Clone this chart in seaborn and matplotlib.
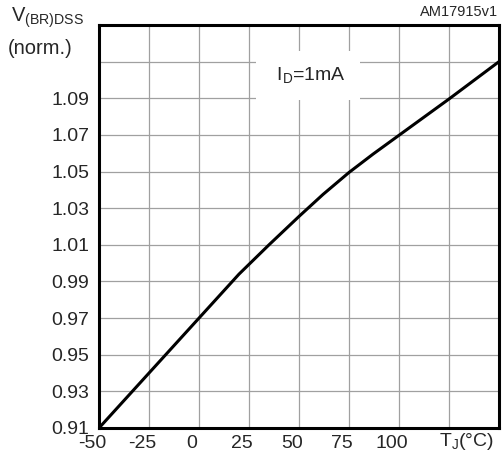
import matplotlib
matplotlib.use("Agg")
import matplotlib.pyplot as plt
import matplotlib.transforms as mtransforms
import seaborn as sns
import pandas as pd

# data
temp_c = [-50, -25, 0, 20, 35, 50, 62, 75, 87, 100, 125, 150]
vbr_norm = [0.910, 0.940, 0.970, 0.994, 1.010, 1.0255, 1.0375, 1.0495, 1.0595, 1.0698, 1.0896, 1.110]
x_ticks = [-50, -25, 0, 25, 50, 75, 100, 125, 150]
x_labels = ["-50", "-25", "0", "25", "50", "75", "100", "", ""]
y_ticks = [0.91, 0.93, 0.95, 0.97, 0.99, 1.01, 1.03, 1.05, 1.07, 1.09, 1.11, 1.13]
y_labels = ["0.91", "0.93", "0.95", "0.97", "0.99", "1.01", "1.03", "1.05", "1.07", "1.09", "", ""]

sns.set_style("white")
plt.rcParams["font.family"] = ["Liberation Sans", "DejaVu Sans"]
plt.rcParams["mathtext.fontset"] = "custom"
plt.rcParams["mathtext.rm"] = "Liberation Sans"

FS = 14

df = pd.DataFrame({"T": temp_c, "V": vbr_norm})

fig = plt.figure(figsize=(5.04, 4.59), dpi=100)
ax = fig.add_axes([99 / 504, 1 - 428 / 459, 400 / 504, 403 / 459])

sns.lineplot(data=df, x="T", y="V", ax=ax, color="black", linewidth=2.2, zorder=3)

ax.set_xlim(-50, 150)
ax.set_ylim(0.91, 1.13)
ax.set_xticks(x_ticks)
ax.set_xticklabels(x_labels, fontsize=FS)
ax.set_yticks(y_ticks)
ax.set_yticklabels(y_labels, fontsize=FS)
ax.tick_params(axis="both", length=0)
ax.tick_params(axis="y", pad=7)
ax.tick_params(axis="x", pad=5)
ax.set_xlabel("")
ax.set_ylabel("")

offset = mtransforms.ScaledTranslation(-7 / 100, 0, fig.dpi_scale_trans)
for lab in ax.get_xticklabels():
    lab.set_transform(lab.get_transform() + offset)

ax.grid(True, color="#a0a0a0", linewidth=0.9)
ax.set_axisbelow(True)
for s in ax.spines.values():
    s.set_visible(True)
    s.set_color("black")
    s.set_linewidth(2.2)

ax.text(54.5, 1.1025, r" I$_\mathregular{D}$=1mA ", fontsize=FS, ha="center", va="center",
        bbox=dict(boxstyle="square,pad=0.75", facecolor="white", edgecolor="none"), zorder=2)

fig.text(467 / 504, 1 - 442 / 459, r"T$_\mathregular{J}$(°C)", fontsize=FS, ha="center", va="center")
fig.text(11 / 504, 1 - 18 / 459, r"V$_\mathregular{(BR)DSS}$", fontsize=FS + 0.5, ha="left", va="center")
fig.text(8 / 504, 1 - 49 / 459, "(norm.)", fontsize=FS + 0.5, ha="left", va="center")
fig.text(498 / 504, 1 - 12 / 459, "AM17915v1", fontsize=10.5, ha="right", va="center")

fig.savefig("out.png", dpi=100)
